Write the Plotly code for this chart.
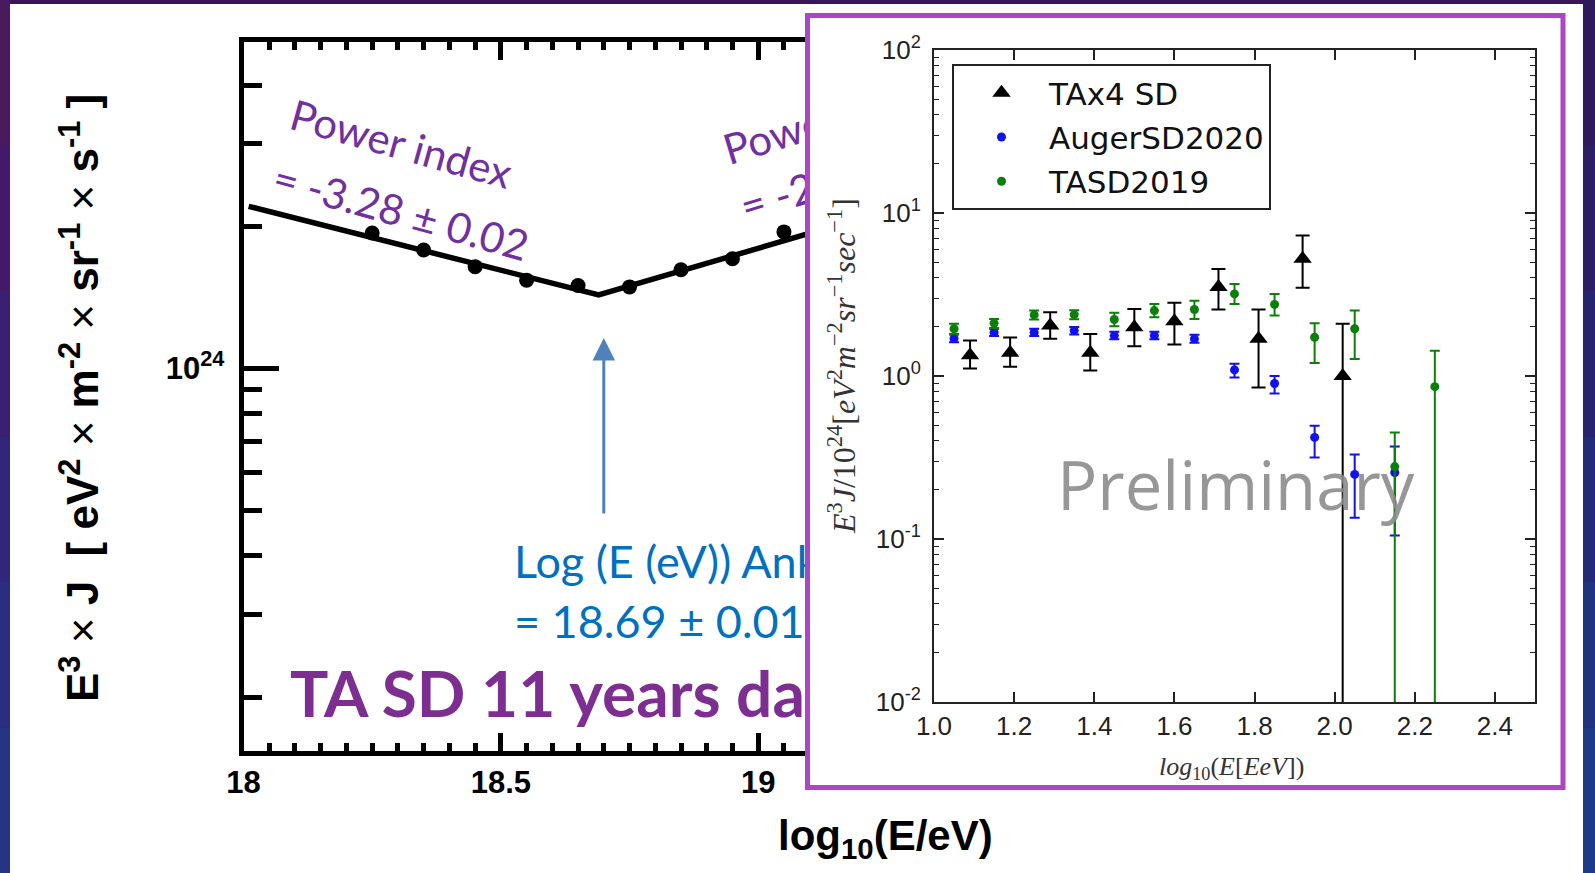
import math
import plotly.graph_objects as go

W, H = 1595, 873

# ---------------- main panel data (TA SD 11 years) ----------------
main_logE = [18.25, 18.35, 18.45, 18.55, 18.65, 18.75, 18.85, 18.95, 19.05]
main_E3J = [1.94e24, 1.785e24, 1.645e24, 1.54e24, 1.50e24, 1.49e24, 1.62e24, 1.71e24, 1.95e24]
fit_logE = [18.01, 18.69, 19.6]
fit_E3J = [2.21e24, 1.432e24, 2.80e24]
ankle_logE = 18.70
arrow_tip_E3J = 1.16e24
arrow_tail_E3J = 4.88e23
main_xticks = [18, 18.5, 19]
main_xticktext = ["18", "18.5", "19"]
main_yticks = [1e24]
main_yticktext = ["10<sup>24</sup>"]
main_yminor = [2e23, 3e23, 4e23, 5e23, 6e23, 7e23, 8e23, 9e23, 2e24, 3e24, 4e24]

# ---------------- inset data ----------------
tax4_logE = [1.09, 1.19, 1.29, 1.39, 1.50, 1.60, 1.71, 1.81, 1.92, 2.02]
tax4_val = [1.34, 1.39, 2.04, 1.39, 1.99, 2.17, 3.51, 1.69, 5.24, 1.00]
tax4_hi = [1.65, 1.72, 2.46, 1.81, 2.58, 2.81, 4.54, 2.56, 7.28, 2.09]
tax4_lo = [1.11, 1.14, 1.69, 1.08, 1.52, 1.56, 2.56, 0.85, 3.48, 0.001]

auger_logE = [1.05, 1.15, 1.25, 1.35, 1.45, 1.55, 1.65, 1.75, 1.85, 1.95, 2.05, 2.15]
auger_val = [1.70, 1.85, 1.85, 1.90, 1.77, 1.77, 1.69, 1.09, 0.90, 0.42, 0.249, 0.256]
auger_hi = [1.80, 1.95, 1.95, 2.00, 1.87, 1.87, 1.79, 1.19, 1.00, 0.495, 0.33, 0.37]
auger_lo = [1.61, 1.76, 1.76, 1.80, 1.68, 1.68, 1.60, 0.98, 0.78, 0.316, 0.135, 0.105]

tasd_logE = [1.05, 1.15, 1.25, 1.35, 1.45, 1.55, 1.65, 1.75, 1.85, 1.95, 2.05, 2.15, 2.25]
tasd_val = [1.95, 2.11, 2.37, 2.38, 2.22, 2.52, 2.56, 3.19, 2.75, 1.73, 1.95, 0.278, 0.86]
tasd_hi = [2.09, 2.24, 2.52, 2.53, 2.44, 2.77, 2.90, 3.67, 3.19, 2.11, 2.52, 0.45, 1.43]
tasd_lo = [1.81, 1.97, 2.22, 2.23, 2.02, 2.29, 2.24, 2.77, 2.35, 1.20, 1.27, 0.001, 0.001]

inset_yticks = [0.01, 0.1, 1, 10, 100]
inset_yticktext = ["10<sup>-2</sup>", "10<sup>-1</sup>", "10<sup>0</sup>", "10<sup>1</sup>", "10<sup>2</sup>"]


def px(x):
    return x / W


def py(y):
    return 1 - y / H


def errs(val, hi, lo):
    return dict(type="data", symmetric=False,
                array=[h - v for v, h in zip(val, hi)],
                arrayminus=[v - l for v, l in zip(val, lo)])


fig = go.Figure()

# main panel
fig.add_trace(go.Scatter(x=fit_logE, y=fit_E3J, mode="lines", line=dict(color="black", width=5.5),
                         showlegend=False, xaxis="x", yaxis="y", hoverinfo="skip"))
fig.add_trace(go.Scatter(x=main_logE, y=main_E3J, mode="markers",
                         marker=dict(color="black", size=15), showlegend=False,
                         xaxis="x", yaxis="y"))
# blank subplot used as the white card of the inset (covers the main panel)
fig.add_trace(go.Scatter(x=[], y=[], xaxis="x2", yaxis="y2", showlegend=False, hoverinfo="skip"))

# inset
fig.add_trace(go.Scatter(x=tax4_logE, y=tax4_val, mode="markers", name="TAx4 SD",
                         marker=dict(symbol="triangle-up", color="black", size=16),
                         error_y=dict(**errs(tax4_val, tax4_hi, tax4_lo), color="black", thickness=2, width=7),
                         xaxis="x3", yaxis="y3", legendgroup="a"))
fig.add_trace(go.Scatter(x=auger_logE, y=auger_val, mode="markers", name="AugerSD2020",
                         marker=dict(color="#1010F0", size=9),
                         error_y=dict(**errs(auger_val, auger_hi, auger_lo), color="#1010F0", thickness=2, width=5),
                         xaxis="x3", yaxis="y3", legendgroup="b"))
fig.add_trace(go.Scatter(x=tasd_logE, y=tasd_val, mode="markers", name="TASD2019",
                         marker=dict(color="#0A800A", size=9),
                         error_y=dict(**errs(tasd_val, tasd_hi, tasd_lo), color="#0A800A", thickness=2, width=5),
                         xaxis="x3", yaxis="y3", legendgroup="c"))

shapes = []
# slide background strips
left_cols = ["#4a1a5f", "#43196a", "#3a1f72", "#31267a", "#2a2e80", "#253483"]
right_cols = ["#2f1a5d", "#2b1d66", "#26246f", "#232b78", "#1f3380", "#1c3a88"]
n = len(left_cols)
for i in range(n):
    shapes.append(dict(type="rect", xref="paper", yref="paper", layer="below",
                       x0=0, x1=px(10), y0=py(H * (i + 1) / n), y1=py(H * i / n),
                       fillcolor=left_cols[i], line=dict(width=0)))
    shapes.append(dict(type="rect", xref="paper", yref="paper", layer="below",
                       x0=px(1583), x1=1, y0=py(H * (i + 1) / n), y1=py(H * i / n),
                       fillcolor=right_cols[i], line=dict(width=0)))
# white slide card
shapes.append(dict(type="rect", xref="paper", yref="paper", layer="below",
                   x0=px(10), x1=px(1583), y0=0, y1=py(4), fillcolor="white", line=dict(width=0)))


def text_line(text, x, y, angle, size, color, family="Lato", length=60):
    a = math.radians(angle)
    return dict(type="line", xref="paper", yref="paper", layer="below",
                x0=px(x), y0=py(y), x1=px(x + length * math.cos(a)), y1=py(y + length * math.sin(a)),
                line=dict(color="rgba(0,0,0,0)", width=1),
                label=dict(text=text, font=dict(family=family, size=size, color=color),
                           textposition="start", xanchor="left", yanchor="middle", padding=0))


purple = "#7030A0"
shapes.append(text_line("Power index", 292, 112, 15.5, 42, purple))
shapes.append(text_line("= -3.28 \u00b1 0.02", 275, 175, 15.5, 42, purple))
shapes.append(text_line("Power index", 724, 149, -17, 42, purple))
shapes.append(text_line("= -2.68 \u00b1 0.02", 741, 206, -17, 42, purple))
shapes.append(text_line("Log (E (eV)) Ankle", 514, 560, 0, 45, "#0070C0"))
shapes.append(text_line("= 18.69 \u00b1 0.01", 514, 620, 0, 45, "#0070C0"))
shapes.append(text_line("<b>TA SD 11 years data</b>", 290, 691, 0, 64, "#7D2E91"))

# inset purple frame
shapes.append(dict(type="rect", xref="paper", yref="paper", layer="above",
                   x0=px(807.5), x1=px(1563), y0=py(787.5), y1=py(15.5),
                   line=dict(color="#AE44C6", width=5), fillcolor="rgba(0,0,0,0)"))

annotations = [
    dict(x=ankle_logE, y=math.log10(arrow_tip_E3J), ax=ankle_logE, ay=math.log10(arrow_tail_E3J),
         xref="x", yref="y", axref="x", ayref="y", text="", showarrow=True,
         arrowhead=2, arrowsize=1.5, arrowwidth=3, arrowcolor="#4F81BD"),
    dict(x=px(80), y=py(398), xref="paper", yref="paper", textangle=-90, showarrow=False,
         xanchor="center", yanchor="middle",
         text=("E<sup>3</sup> <span style='font-weight:normal'>\u00d7</span> J\u00a0\u00a0[ eV<sup>2</sup> "
               "<span style='font-weight:normal'>\u00d7</span> m<sup>-2</sup> "
               "<span style='font-weight:normal'>\u00d7</span> sr<sup>-1</sup> "
               "<span style='font-weight:normal'>\u00d7</span> s<sup>-1</sup> ]"),
         font=dict(family="Liberation Sans, Arial", size=44, color="black", weight="bold")),
    dict(x=px(885), y=py(838), xref="paper", yref="paper", showarrow=False,
         xanchor="center", yanchor="middle", text="log<sub>10</sub>(E/eV)",
         font=dict(family="Liberation Sans, Arial", size=42, color="black", weight="bold")),
    dict(x=px(842), y=py(366), xref="paper", yref="paper", textangle=-90, showarrow=False,
         xanchor="center", yanchor="middle",
         text=("<i>E</i><sup>3</sup><i>J</i>/10<sup>24</sup>[<i>eV</i><sup>2</sup><i>m</i><sup>\u22122</sup>"
               "<i>sr</i><sup>\u22121</sup><i>sec</i><sup>\u22121</sup>]"),
         font=dict(family="Liberation Serif", size=32, color="#333333")),
    dict(x=px(1231), y=py(768), xref="paper", yref="paper", showarrow=False,
         xanchor="center", yanchor="middle",
         text="<i>log</i><sub>10</sub>(<i>E</i>[<i>EeV</i>])",
         font=dict(family="Liberation Serif", size=26, color="#333333")),
    dict(x=px(1236), y=py(484), xref="paper", yref="paper", showarrow=False,
         xanchor="center", yanchor="middle", text="Preliminary",
         font=dict(family="Open Sans", size=67, color="rgba(140,140,140,0.9)")),
]

tickfont_main = dict(family="Liberation Sans, Arial", size=31, color="black", weight="bold")
narrow = "Liberation Sans Narrow, Liberation Sans"

fig.update_layout(
    width=W, height=H, autosize=False,
    margin=dict(l=0, r=0, t=0, b=0, pad=0, autoexpand=False),
    paper_bgcolor="#3a1658", plot_bgcolor="white",
    shapes=shapes, annotations=annotations,
    showlegend=True,
    legend=dict(x=px(952), y=py(64), xanchor="left", yanchor="top", bgcolor="white",
                bordercolor="#222222", borderwidth=2, itemwidth=85, tracegroupgap=1,
                font=dict(family="DejaVu Sans", size=31, color="#111111")),
    xaxis=dict(domain=[px(243.5), px(1530.3)], range=[18, 20.5], anchor="y",
               showline=True, linecolor="black", linewidth=5, mirror="ticks",
               ticks="inside", ticklen=18, tickwidth=4.5, tickcolor="black",
               tickvals=main_xticks, ticktext=main_xticktext, tickfont=tickfont_main,
               minor=dict(dtick=0.05, tick0=18, ticks="inside", ticklen=8, tickwidth=4.5, tickcolor="black"),
               showgrid=False, zeroline=False),
    yaxis=dict(domain=[py(750.5), py(41.5)], type="log", range=[23.188, 24.6946], anchor="x",
               showline=True, linecolor="black", linewidth=5, mirror="ticks",
               ticks="inside", ticklen=35, tickwidth=5, tickcolor="black",
               tickvals=main_yticks, ticktext=main_yticktext, tickfont=tickfont_main,
               ticklabelstandoff=8,
               minor=dict(tickvals=main_yminor, ticks="inside", ticklen=18, tickwidth=5, tickcolor="black"),
               showgrid=False, zeroline=False),
    xaxis2=dict(domain=[px(805), px(1565.5)], range=[0, 1], visible=False, anchor="y2"),
    yaxis2=dict(domain=[py(790), py(13)], range=[0, 1], visible=False, anchor="x2"),
    xaxis3=dict(domain=[px(934), px(1535)], range=[1.0, 2.5], anchor="y3",
                showline=True, linecolor="#222222", linewidth=2, mirror="allticks",
                ticks="inside", ticklen=10, tickwidth=1.5, tickcolor="#222222",
                tick0=1.0, dtick=0.2, tickformat=".1f",
                tickfont=dict(family=narrow, size=26, color="#222222"),
                showgrid=False, zeroline=False),
    yaxis3=dict(domain=[py(702), py(50)], type="log", range=[-2, 2], anchor="x3",
                showline=True, linecolor="#222222", linewidth=2, mirror="allticks",
                ticks="inside", ticklen=10, tickwidth=1.5, tickcolor="#222222",
                tickvals=inset_yticks, ticktext=inset_yticktext,
                tickfont=dict(family=narrow, size=26, color="#222222"),
                ticklabelstandoff=6,
                minor=dict(dtick="D1", ticks="inside", ticklen=5, tickwidth=1.2, tickcolor="#222222"),
                showgrid=False, zeroline=False),
)

fig.write_html("out.html")
